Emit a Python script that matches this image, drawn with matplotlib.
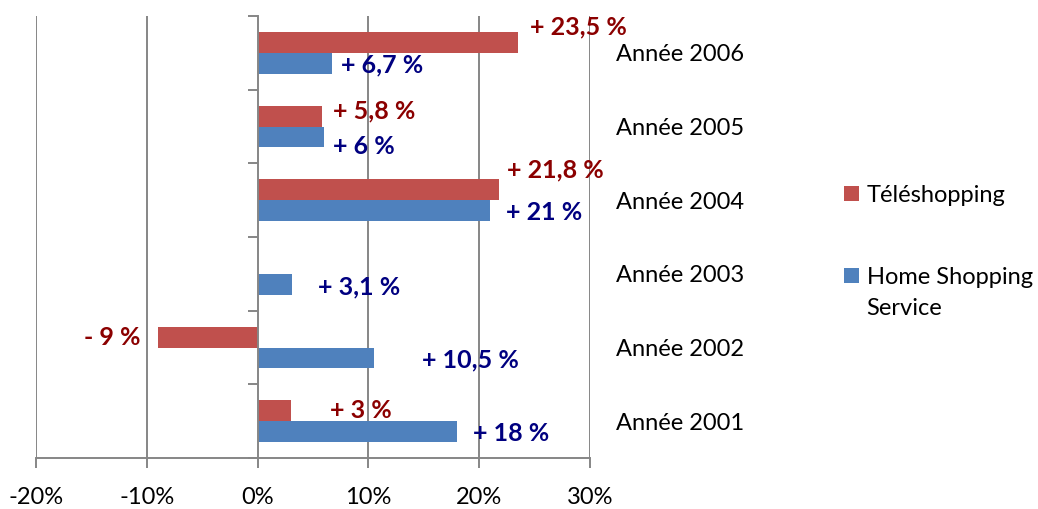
import numpy as np
import matplotlib
matplotlib.use('Agg')
import matplotlib.pyplot as plt
from matplotlib.patches import Rectangle
from matplotlib.legend_handler import HandlerPatch

plt.rcParams['font.family'] = ['Lato', 'DejaVu Sans']

# data
years = ['Année 2001', 'Année 2002', 'Année 2003', 'Année 2004', 'Année 2005', 'Année 2006']
home_shopping = [18, 10.5, 3.1, 21, 6, 6.7]
teleshopping = [3, -9, None, 21.8, 5.8, 23.5]
home_labels = ['+ 18 %', '+ 10,5 %', '+ 3,1 %', '+ 21 %', '+ 6 %', '+ 6,7 %']
tele_labels = ['+ 3 %', '- 9 %', None, '+ 21,8 %', '+ 5,8 %', '+ 23,5 %']

# label offsets (pixels) from the end of each bar
home_off = [(16, -2), (48, -2), (26, -3), (16, -2), (9, -10), (9, -2)]
tele_off = [(39, 0), (-17, 0), None, (8, 20), (11, 5), (12, 15)]

red = '#C0504D'
blue = '#4F81BD'
red_txt = '#8B0000'
blue_txt = '#000080'
grid = '#868686'

fig = plt.figure(figsize=(10.38, 5.09), dpi=100)
ax = fig.add_axes([36 / 1038, 51 / 509, 554 / 1038, 442 / 509])

y = np.arange(len(years))
h = 0.285
tele_vals = [v if v is not None else 0 for v in teleshopping]
b_home = ax.barh(y - h / 2, home_shopping, height=h, color=blue, zorder=3)
b_tele = ax.barh(y + h / 2, tele_vals, height=h, color=red, zorder=3)

for i in range(len(years)):
    dx, dy = home_off[i]
    ax.annotate(home_labels[i], (home_shopping[i], y[i] - h / 2),
                xytext=(dx, dy), textcoords='offset pixels',
                ha='left', va='center', color=blue_txt,
                fontsize=18, fontweight='bold', zorder=5)
    if teleshopping[i] is None:
        continue
    dx, dy = tele_off[i]
    ax.annotate(tele_labels[i], (teleshopping[i], y[i] + h / 2),
                xytext=(dx, dy), textcoords='offset pixels',
                ha='left' if teleshopping[i] >= 0 else 'right', va='center',
                color=red_txt, fontsize=18, fontweight='bold', zorder=5)

ax.set_xlim(-20, 30)
ax.set_ylim(-0.5, len(years) - 0.5)

xt = [-20, -10, 0, 10, 20, 30]
ax.set_xticks(xt)
ax.set_xticklabels([f'{v}%' for v in xt])
for v in xt:
    if v != 0:
        ax.axvline(v, color=grid, lw=1.4, zorder=1)

ax.set_yticks(np.arange(-0.5, len(years), 1))
ax.set_yticklabels([])
ax.set_yticks(y, minor=True)
ax.set_yticklabels(years, minor=True)

for s in ['top', 'right']:
    ax.spines[s].set_visible(False)
ax.spines['left'].set_position(('data', 0))
for s in ['left', 'bottom']:
    ax.spines[s].set_color(grid)
    ax.spines[s].set_linewidth(1.4)
    ax.spines[s].set_zorder(4)

ax.tick_params(axis='x', which='major', direction='out', length=7, width=1.4,
               color=grid, labelsize=17, pad=14)
ax.tick_params(axis='y', which='major', direction='out', length=7, width=1.4,
               color=grid, left=True, labelleft=False)
ax.tick_params(axis='y', which='minor', left=False, right=False,
               labelleft=False, labelright=True, length=0, pad=19,
               labelsize=17)


# legend square sitting level with the first line of a two-line label
def square(shift):
    def make(legend, orig_handle, xdescent, ydescent, width, height, fontsize):
        s = min(width, height)
        return Rectangle((-xdescent, -ydescent + (height - s) / 2 + shift), s, s)
    return HandlerPatch(patch_func=make)


h_tele = b_tele[0]
h_home = b_home[0]
leg = ax.legend([h_tele, h_home], ['Téléshopping', 'Home Shopping\nService'],
                loc='upper left',
                bbox_to_anchor=(844 / 1038, 1 - 185 / 509),
                bbox_transform=fig.transFigure, frameon=False,
                fontsize=17, handlelength=0.62, handleheight=0.62,
                handletextpad=0.34, labelspacing=2.6, borderpad=0,
                borderaxespad=0,
                handler_map={h_tele: square(0), h_home: square(13)})
leg.get_texts()[1].set_linespacing(1.55)

fig.savefig('out.png', dpi=100)
